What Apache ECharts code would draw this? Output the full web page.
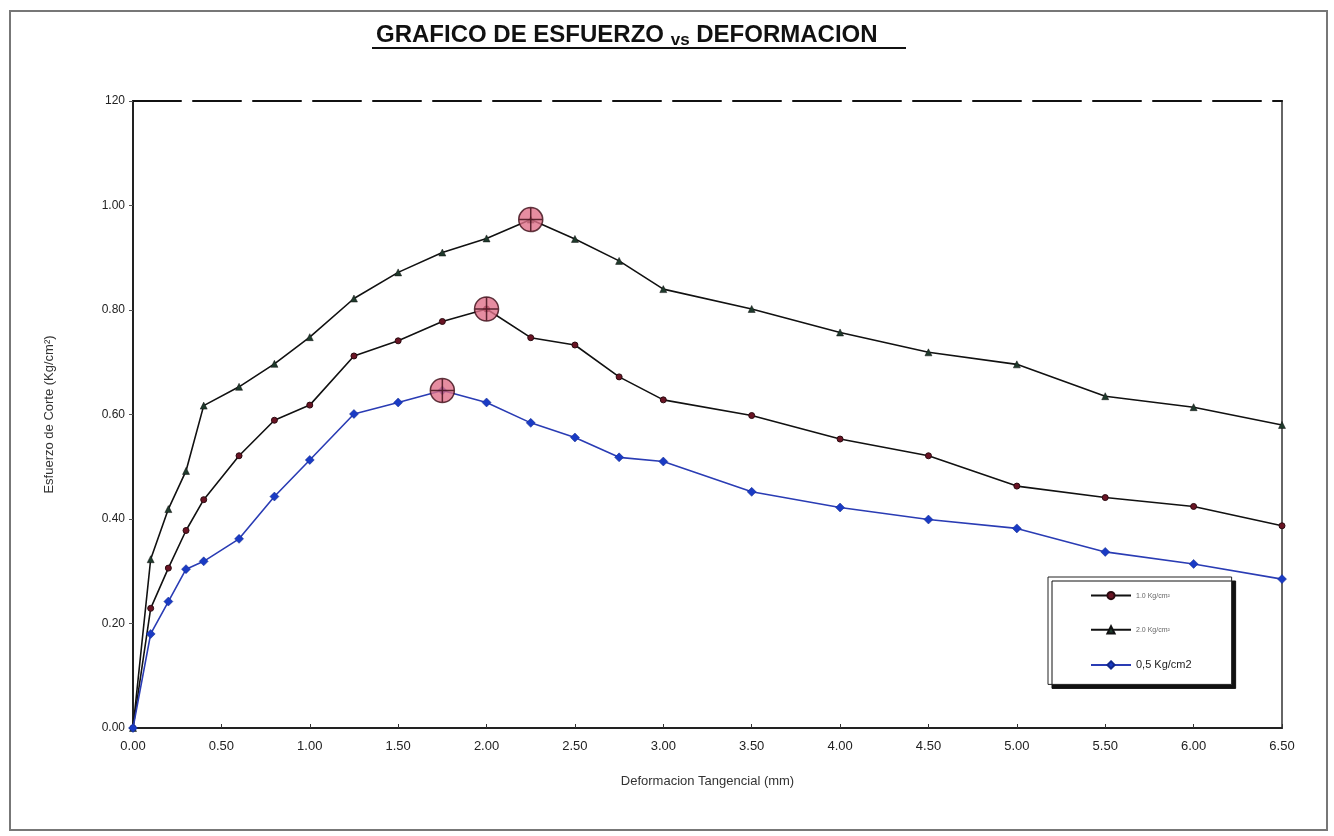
<!DOCTYPE html>
<html>
<head>
<meta charset="utf-8">
<script src="https://cdn.jsdelivr.net/npm/echarts@6/dist/echarts.min.js"></script>
<style>html,body{margin:0;padding:0;background:#fff}#c{width:1334px;height:836px}</style>
</head>
<body>
<div id="c"></div>
<script>
const deformacion = [0, 0.1, 0.2, 0.3, 0.4, 0.6, 0.8, 1.0, 1.25, 1.5, 1.75, 2.0, 2.25, 2.5, 2.75, 3.0, 3.5, 4.0, 4.5, 5.0, 5.5, 6.0, 6.5];
const esfuerzo20 = [0, 0.323, 0.419, 0.492, 0.617, 0.653, 0.697, 0.748, 0.822, 0.872, 0.910, 0.937, 0.973, 0.936, 0.894, 0.840, 0.802, 0.757, 0.719, 0.696, 0.635, 0.614, 0.580];
const esfuerzo10 = [0, 0.229, 0.306, 0.378, 0.437, 0.521, 0.589, 0.618, 0.712, 0.741, 0.778, 0.802, 0.747, 0.733, 0.672, 0.628, 0.598, 0.553, 0.521, 0.463, 0.441, 0.424, 0.387];
const esfuerzo05 = [0, 0.180, 0.242, 0.304, 0.319, 0.362, 0.443, 0.513, 0.601, 0.623, 0.646, 0.623, 0.584, 0.556, 0.518, 0.510, 0.452, 0.422, 0.399, 0.382, 0.337, 0.314, 0.285];
const seriesNames = ['1.0 Kg/cm²', '2.0 Kg/cm²', '0,5 Kg/cm2'];
const yTickLabels = ['0.00', '0.20', '0.40', '0.60', '0.80', '1.00', '120'];

const pairs = ys => deformacion.map((x, i) => [x, ys[i]]);
const peak = ys => { let k = 0; ys.forEach((v, i) => { if (v > ys[k]) k = i; }); return [deformacion[k], ys[k]]; };

const chart = echarts.init(document.getElementById('c'), null, {renderer: 'canvas'});
const FONT = 'Liberation Sans, Arial, sans-serif';
const crossSymbol = 'path://M12,0 A12,12 0 1,1 11.99,0 Z M12,0 L12,24 M0,12 L24,12';

chart.setOption({
  backgroundColor: '#fff',
  animation: false,
  title: {
    text: '{a|GRAFICO DE ESFUERZO }{b|vs}{a| DEFORMACION}',
    left: 376, top: 21, padding: 0,
    textStyle: {
      rich: {
        a: {fontFamily: FONT, fontWeight: 'bold', fontSize: 24, lineHeight: 28, color: '#111'},
        b: {fontFamily: FONT, fontWeight: 'bold', fontSize: 17, lineHeight: 28, color: '#111', verticalAlign: 'bottom'}
      }
    }
  },
  graphic: [
    {type: 'rect', shape: {x: 10, y: 11, width: 1317, height: 819}, style: {fill: 'none', stroke: '#777', lineWidth: 2}, silent: true, z: -1},
    {type: 'line', shape: {x1: 372, y1: 48, x2: 906, y2: 48}, style: {stroke: '#111', lineWidth: 2}, silent: true}
  ],
  grid: {left: 133, right: 52, top: 101, bottom: 108, show: false},
  legend: {
    orient: 'vertical',
    left: 1048, top: 577,
    padding: [14, 40, 14, 42],
    itemGap: 25,
    itemWidth: 40, itemHeight: 9,
    backgroundColor: '#fff',
    borderColor: '#222', borderWidth: 1,
    shadowColor: '#111', shadowBlur: 0, shadowOffsetX: 4, shadowOffsetY: 4,
    data: seriesNames,
    formatter: n => n === seriesNames[2] ? '{b|' + n + '}' : '{s|' + n + '}',
    textStyle: {
      rich: {
        s: {fontFamily: FONT, fontSize: 7, color: '#666'},
        b: {fontFamily: FONT, fontSize: 11, color: '#222'}
      }
    }
  },
  xAxis: [{
    type: 'value', min: 0, max: 6.5, interval: 0.5,
    name: 'Deformacion Tangencial (mm)', nameLocation: 'middle', nameGap: 47,
    nameTextStyle: {fontFamily: FONT, fontSize: 13, color: '#333'},
    axisLine: {show: true, onZero: false, lineStyle: {color: '#222', width: 2}},
    axisTick: {show: true, inside: true, length: 4, lineStyle: {color: '#333'}},
    axisLabel: {fontFamily: FONT, fontSize: 13, color: '#222', margin: 12, formatter: v => v.toFixed(2)},
    splitLine: {show: false}
  }, {
    type: 'value', position: 'top', min: 0, max: 6.5,
    axisLine: {show: true, onZero: false, lineStyle: {color: '#111', width: 2, type: [48, 12]}},
    axisTick: {show: false}, axisLabel: {show: false}, splitLine: {show: false}
  }],
  yAxis: [{
    type: 'value', min: 0, max: 1.2, interval: 0.2,
    name: 'Esfuerzo de Corte (Kg/cm²)', nameLocation: 'middle', nameGap: 77, nameRotate: 90,
    nameTextStyle: {fontFamily: FONT, fontSize: 13, color: '#333'},
    axisLine: {show: true, onZero: false, lineStyle: {color: '#222', width: 2}},
    axisTick: {show: true, length: 4, lineStyle: {color: '#555'}},
    axisLabel: {fontFamily: FONT, fontSize: 12, color: '#222', margin: 8,
      formatter: v => yTickLabels[Math.round(v / 0.2)]},
    splitLine: {show: false}
  }, {
    type: 'value', position: 'right', min: 0, max: 1.2,
    axisLine: {show: true, onZero: false, lineStyle: {color: '#666', width: 2}},
    axisTick: {show: false}, axisLabel: {show: false}, splitLine: {show: false}
  }],
  series: [
    {
      name: seriesNames[0], type: 'line', data: pairs(esfuerzo10),
      symbol: 'circle', symbolSize: 6,
      lineStyle: {color: '#111', width: 1.6},
      itemStyle: {color: '#6a1424', borderColor: '#2a0a10', borderWidth: 1}
    },
    {
      name: seriesNames[1], type: 'line', data: pairs(esfuerzo20),
      symbol: 'triangle', symbolSize: 7,
      lineStyle: {color: '#111', width: 1.6},
      itemStyle: {color: '#1f3a2c', borderColor: '#111', borderWidth: 0.5}
    },
    {
      name: seriesNames[2], type: 'line', data: pairs(esfuerzo05),
      symbol: 'diamond', symbolSize: 9,
      lineStyle: {color: '#2a3cb4', width: 1.6},
      itemStyle: {color: '#1a3bc4', borderColor: '#12288a', borderWidth: 0.5}
    },
    {
      name: 'peaks', type: 'scatter',
      data: [peak(esfuerzo20), peak(esfuerzo10), peak(esfuerzo05)],
      symbol: crossSymbol, symbolSize: 24, z: 5,
      itemStyle: {color: '#e07089', borderColor: '#3a0a14', borderWidth: 1.5}
    }
  ]
});
</script>
</body>
</html>
